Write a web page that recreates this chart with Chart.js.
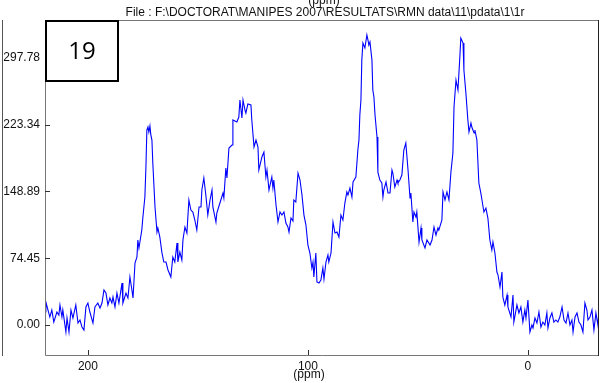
<!DOCTYPE html>
<html>
<head>
<meta charset="utf-8">
<script src="https://cdn.jsdelivr.net/npm/chart.js@4/dist/chart.umd.min.js"></script>
<style>
  body { margin: 0; background: #fff; }
  #wrap { width: 604px; height: 383px; position: relative; }
</style>
</head>
<body>
<div id="wrap"><canvas id="nmrChart" width="604" height="383"></canvas></div>
<script>
// chemical shift (ppm) and intensity
const ppm = [
  219.5, 219.1, 217.3, 216.4, 215.5, 214.1, 213.2, 212.7, 211.8, 211.4,
  210.0, 209.5, 208.6, 207.7, 206.8, 205.5, 204.5, 203.6, 202.7, 201.8,
  200.9, 200.0, 199.1, 197.7, 196.8, 195.5, 194.5, 193.6, 192.7, 191.8,
  190.9, 190.0, 189.1, 188.6, 187.7, 186.8, 185.9, 184.5, 184.1, 182.7,
  181.8, 180.9, 180.0, 179.5, 178.6, 177.7, 177.3, 176.8, 175.5, 175.0,
  174.1, 173.6, 173.2, 172.7, 172.3, 171.8, 171.4, 170.9, 170.5, 169.5,
  168.6, 168.2, 167.3, 166.4, 165.5, 164.5, 163.6, 162.3, 161.4, 160.5,
  159.5, 159.1, 158.2, 157.3, 156.8, 155.9, 155.0, 154.1, 153.2, 152.3,
  151.4, 150.5, 149.5, 148.6, 148.2, 147.3, 146.4, 145.5, 144.5, 143.6,
  143.2, 141.8, 141.4, 140.0, 138.6, 138.2, 137.3, 136.8, 135.9, 134.5,
  134.1, 133.2, 132.3, 131.4, 130.9, 130.0, 129.5, 128.6, 128.2, 127.3,
  125.9, 125.5, 124.5, 123.6, 122.7, 122.3, 120.9, 120.0, 119.1, 118.6,
  117.7, 116.4, 115.9, 115.5, 114.5, 113.6, 112.7, 111.8, 110.9, 110.0,
  109.1, 108.6, 107.7, 106.8, 106.4, 105.5, 104.5, 103.6, 102.7, 101.8,
  100.9, 100.0, 99.1, 98.2, 97.7, 97.3, 96.4, 95.9, 95.0, 94.1,
  93.2, 92.7, 91.8, 90.9, 90.5, 89.5, 88.6, 87.7, 86.8, 85.9,
  85.0, 84.1, 83.2, 82.3, 81.8, 80.9, 80.0, 79.5, 78.2, 77.3,
  76.8, 76.4, 75.9, 75.5, 75.0, 74.1, 73.2, 72.7, 72.3, 71.8,
  70.9, 70.5, 70.0, 69.5, 68.6, 68.2, 67.3, 66.4, 65.9, 65.5,
  64.5, 63.6, 62.7, 61.8, 61.4, 60.5, 59.5, 59.1, 58.2, 57.3,
  56.4, 55.5, 54.5, 53.6, 53.2, 52.3, 51.8, 50.9, 50.5, 49.5,
  48.6, 48.2, 46.8, 45.9, 44.5, 43.6, 42.7, 41.8, 40.9, 40.5,
  39.1, 38.6, 37.7, 36.8, 35.9, 35.0, 34.1, 33.6, 32.7, 31.8,
  30.9, 30.5, 29.5, 29.1, 28.2, 27.3, 26.8, 25.9, 25.5, 24.5,
  24.1, 23.2, 22.3, 21.4, 20.9, 20.0, 19.1, 18.2, 17.3, 16.4,
  15.9, 15.0, 14.1, 13.6, 12.7, 11.8, 11.4, 10.5, 9.5, 9.1,
  7.7, 6.8, 6.4, 5.0, 4.1, 3.2, 2.3, 1.4, 0.9, 0.0,
  -0.9, -1.8, -2.3, -3.2, -4.1, -5.0, -5.9, -6.8, -7.7, -8.6,
  -9.1, -10.0, -10.9, -11.8, -12.7, -13.6, -14.5, -15.5, -16.4, -17.3,
  -18.2, -19.1, -20.0, -20.5, -21.4, -22.3, -23.2, -24.1, -25.0, -25.9,
  -26.8, -27.3, -28.2, -29.1, -30.0, -30.9, -31.8, -32.3
];
const intensity = [
  14.5, 25.6, 8.9, 16.7, 3.3, 14.5, 11.1, 22.3, 8.9, 16.7,
  -7.8, 7.8, -7.8, 16.7, 7.8, 22.3, 2.2, 5.6, -2.2, -5.6,
  20.1, 24.5, 14.5, 2.2, 20.1, 24.5, 18.9, 24.5, 39.0, 35.6,
  22.3, 30.1, 24.5, 31.2, 20.1, 35.6, 24.5, 46.8, 24.5, 35.6,
  30.1, 53.5, 39.0, 30.1, 69.1, 75.8, 94.7, 85.8, 105.8, 120.3,
  142.6, 178.2, 217.2, 220.6, 215.0, 221.7, 211.7, 206.1, 180.5, 131.5,
  103.6, 108.1, 98.0, 81.3, 70.2, 70.2, 61.3, 53.5, 75.8, 70.2,
  91.4, 70.2, 81.3, 72.4, 94.7, 109.2, 102.5, 139.3, 128.1, 125.9,
  117.0, 105.8, 131.5, 131.5, 150.4, 163.8, 144.8, 122.5, 139.3, 150.4,
  131.5, 114.7, 124.8, 135.9, 147.0, 141.5, 174.9, 163.8, 197.2, 200.5,
  228.4, 227.3, 226.1, 231.7, 250.7, 230.6, 250.7, 239.5, 236.2, 246.2,
  245.1, 228.4, 198.3, 206.1, 198.3, 172.7, 187.2, 192.7, 164.9, 172.7,
  150.4, 164.9, 152.6, 161.5, 133.7, 114.7, 125.9, 122.5, 125.9, 113.6,
  109.2, 103.6, 119.2, 115.9, 139.3, 137.0, 169.3, 161.5, 144.8, 122.5,
  111.4, 89.1, 80.2, 63.5, 70.2, 53.5, 80.2, 47.9, 46.8, 50.1,
  63.5, 51.2, 70.2, 78.0, 70.2, 80.2, 114.7, 102.5, 103.6, 98.0,
  122.5, 117.0, 135.9, 148.2, 144.8, 152.6, 142.6, 159.3, 164.9, 195.0,
  206.1, 233.9, 250.7, 295.2, 314.1, 308.6, 323.1, 317.5, 311.9, 315.3,
  295.2, 261.8, 254.0, 233.9, 209.4, 170.4, 161.5, 158.2, 142.6, 150.4,
  159.3, 147.0, 147.0, 172.7, 169.3, 153.7, 161.5, 158.2, 161.5, 167.1,
  195.0, 202.7, 172.7, 141.5, 147.0, 114.7, 125.9, 120.3, 125.9, 92.5,
  108.1, 94.7, 85.8, 94.7, 89.1, 94.7, 109.2, 100.3, 108.1, 105.8,
  117.0, 148.2, 139.3, 148.2, 139.3, 170.4, 191.6, 242.9, 272.9, 261.8,
  300.8, 319.7, 314.1, 284.1, 258.4, 228.4, 215.0, 225.0, 220.6, 213.9,
  217.2, 206.1, 158.2, 147.0, 139.3, 125.9, 130.3, 119.2, 94.7, 83.6,
  92.5, 80.2, 59.0, 55.7, 42.3, 59.0, 31.2, 22.3, 33.4, 20.1,
  8.9, 33.4, 3.3, 22.3, 13.4, 20.1, 3.3, 16.7, 7.8, 27.9,
  -7.8, 0.0, -3.3, 7.8, 2.2, 14.5, -2.2, 3.3, 0.0, 13.4,
  -3.3, 7.8, 13.4, 3.3, 5.6, 3.3, 8.9, 20.1, 5.6, 2.2,
  13.4, 0.0, 5.6, -7.8, 8.9, 13.4, 3.3, 0.0, -7.8, 24.5,
  16.7, 5.6, 8.9, 16.7, -5.6, 13.4, 0.0, 16.7
];
const xTicks = [200, 100, 0];
const yTicks = [0.00, 74.45, 148.89, 223.34, 297.78];
const xRange = [-32.3, 219.5];
const yRange = [-33.4, 339.8];
const titleText = "File : F:\\DOCTORAT\\MANIPES 2007\\RESULTATS\\RMN data\\11\\pdata\\1\\1r";
const unitText = "(ppm)";
const boxLabel = "19";

const points = ppm.map((p, i) => ({ x: p, y: intensity[i] }));
const textFont = "'Liberation Sans', Arial, sans-serif";

// frame, inward ticks, captions and the numbered box
const frame = {
  id: "frame",
  afterDraw(chart) {
    const { ctx, chartArea: a, scales } = chart;
    ctx.save();
    ctx.lineWidth = 1;
    // gray spines
    ctx.strokeStyle = "#777";
    ctx.beginPath();
    ctx.moveTo(a.left + 0.5, a.top);
    ctx.lineTo(a.left + 0.5, a.bottom + 0.5);
    ctx.lineTo(a.right, a.bottom + 0.5);
    ctx.moveTo(a.left, a.top + 0.5);
    ctx.lineTo(a.right, a.top + 0.5);
    ctx.stroke();
    ctx.strokeStyle = "#222";
    ctx.beginPath();
    ctx.moveTo(a.right - 0.5, a.top);
    ctx.lineTo(a.right - 0.5, a.bottom + 1);
    ctx.stroke();
    // outer left line
    ctx.strokeStyle = "#555";
    ctx.beginPath();
    ctx.moveTo(2.5, a.top);
    ctx.lineTo(2.5, a.bottom + 1);
    ctx.stroke();
    // tick marks pointing into the plot
    ctx.strokeStyle = "#333";
    ctx.beginPath();
    yTicks.forEach(v => {
      const y = Math.round(scales.y.getPixelForValue(v)) + 0.5;
      ctx.moveTo(a.left, y);
      ctx.lineTo(a.left + 5, y);
    });
    xTicks.forEach(v => {
      const x = Math.round(scales.x.getPixelForValue(v)) + 0.5;
      ctx.moveTo(x, a.bottom);
      ctx.lineTo(x, a.bottom - 5);
    });
    ctx.stroke();
    // captions
    ctx.fillStyle = "#111";
    ctx.font = "12px " + textFont;
    ctx.textAlign = "center";
    ctx.textBaseline = "alphabetic";
    ctx.fillText(titleText, 325, 16);
    ctx.fillText(unitText, 324, 4);
    ctx.fillText(unitText, 309, 378);
    // numbered box
    ctx.fillStyle = "#fff";
    ctx.fillRect(a.left, a.top, 73, 61);
    ctx.strokeStyle = "#000";
    ctx.lineWidth = 2;
    ctx.strokeRect(a.left + 1, a.top + 1, 72, 60);
    ctx.fillStyle = "#000";
    ctx.font = "24px 'Open Sans', 'Liberation Sans', sans-serif";
    ctx.textBaseline = "middle";
    ctx.fillText(boxLabel, a.left + 37, a.top + 32);
    ctx.restore();
  }
};

const ctx = document.getElementById("nmrChart").getContext("2d");
new Chart(ctx, {
  type: "line",
  data: {
    datasets: [{
      data: points,
      borderColor: "#0000ff",
      borderWidth: 1.1,
      pointRadius: 0,
      tension: 0,
      fill: false
    }]
  },
  options: {
    responsive: false,
    animation: false,
    layout: { padding: { top: 20, right: 5, left: 0, bottom: 0 } },
    plugins: {
      legend: { display: false },
      tooltip: { enabled: false }
    },
    scales: {
      x: {
        type: "linear",
        reverse: true,
        min: xRange[0],
        max: xRange[1],
        grid: { display: false, drawTicks: false },
        border: { display: false },
        afterBuildTicks: s => { s.ticks = xTicks.map(v => ({ value: v })); },
        afterFit: s => { s.height = 28; },
        ticks: {
          padding: 4,
          color: "#111",
          font: { family: textFont, size: 12 },
          callback: v => String(v)
        }
      },
      y: {
        type: "linear",
        min: yRange[0],
        max: yRange[1],
        grid: { display: false, drawTicks: false },
        border: { display: false },
        afterBuildTicks: s => { s.ticks = yTicks.map(v => ({ value: v })); },
        afterFit: s => { s.width = 45; },
        ticks: {
          padding: 5,
          color: "#111",
          font: { family: textFont, size: 12 },
          callback: v => v.toFixed(2)
        }
      }
    }
  },
  plugins: [frame]
});
</script>
</body>
</html>
